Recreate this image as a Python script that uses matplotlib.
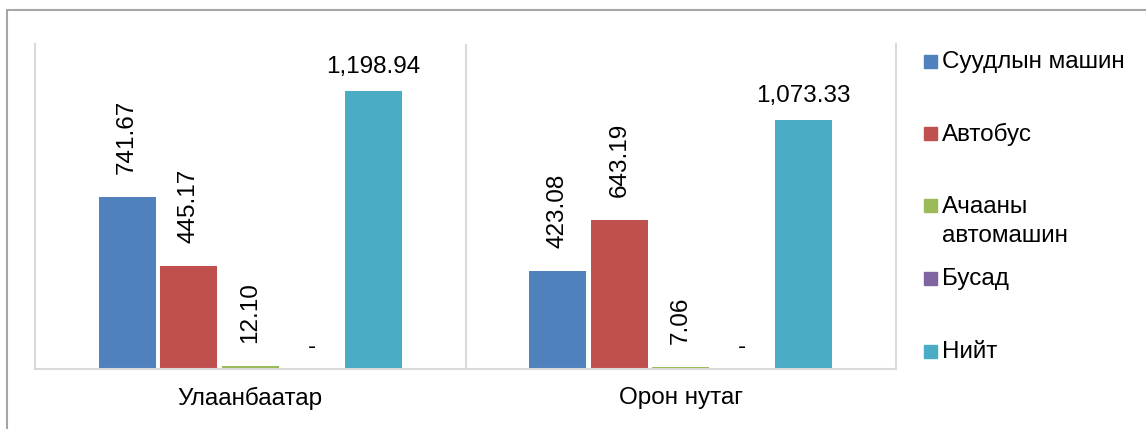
import numpy as np
import matplotlib
import matplotlib.pyplot as plt
from matplotlib.patches import Rectangle

matplotlib.use('Agg')

plt.rcParams['font.family'] = ['Liberation Sans', 'DejaVu Sans']

regions = ['Улаанбаатар', 'Орон нутаг']
series = ['Суудлын машин', 'Автобус', 'Ачааны\nавтомашин', 'Бусад', 'Нийт']
colors = ['#4F81BD', '#C0504D', '#9BBB59', '#8064A2', '#4BACC6']

passenger_car = [741.67, 423.08]
bus = [445.17, 643.19]
truck = [12.10, 7.06]
other = [0.0, 0.0]
total = [1198.94, 1073.33]

values = [passenger_car, bus, truck, other, total]

W, H, DPI = 1146, 429, 100
fig = plt.figure(figsize=(W / DPI, H / DPI), dpi=DPI)

# plot area in pixel units of the figure
left, right, top, bottom = 35, 896, 44, 369
ax = fig.add_axes([left / W, 1 - bottom / H, (right - left) / W, (bottom - top) / H])

x = np.arange(len(regions))
step = 1 / 7
width = 0.133
fs = 17.5

for i, (vals, color) in enumerate(zip(values, colors)):
    pos = x + (i - 2) * step
    ax.bar(pos, vals, width, color=color, zorder=2)
    for p, v in zip(pos, vals):
        if v == 0:
            ax.text(p, 95, '-', ha='center', va='center', fontsize=fs)
        elif i == 4:
            ax.annotate(f'{v:,.2f}', xy=(p, v), xytext=(0, 13), textcoords='offset points',
                        ha='center', va='baseline', fontsize=fs)
        else:
            ax.annotate(f'{v:,.2f}', xy=(p, v), xytext=(0, 16.5), textcoords='offset points',
                        ha='center', va='bottom', rotation=90, fontsize=fs)

ax.set_xlim(-0.5, 1.5)
ax.set_ylim(0, 1400)
ax.set_yticks([])
ax.set_xticks(x)
ax.set_xticklabels(regions, fontsize=fs)
ax.tick_params(axis='x', length=0, pad=13)

ax.spines['top'].set_visible(False)
for side in ['left', 'right', 'bottom']:
    ax.spines[side].set_color('#d9d9d9')
    ax.spines[side].set_linewidth(1.5)
ax.axvline(0.5, color='#d9d9d9', linewidth=1.5, zorder=1)

# legend drawn beside the plot area
leg_x, leg_y0, leg_dy = 924, 61, 72.5
for i, (name, color) in enumerate(zip(series, colors)):
    cy = leg_y0 + i * leg_dy
    fig.add_artist(Rectangle((leg_x / W, 1 - (cy + 6.5) / H), 13 / W, 13 / H,
                             transform=fig.transFigure, color=color))
    for k, line in enumerate(name.split('\n')):
        fig.text(942 / W, 1 - (cy + 1 + k * 29) / H, line, ha='left', va='center', fontsize=fs)

# outer chart frame
fig.add_artist(Rectangle((7 / W, -0.1), 1.2, 1 - 10 / H + 0.1, transform=fig.transFigure,
                         fill=False, edgecolor='#a6a6a6', linewidth=1.5))

fig.savefig('out.png', dpi=DPI)
